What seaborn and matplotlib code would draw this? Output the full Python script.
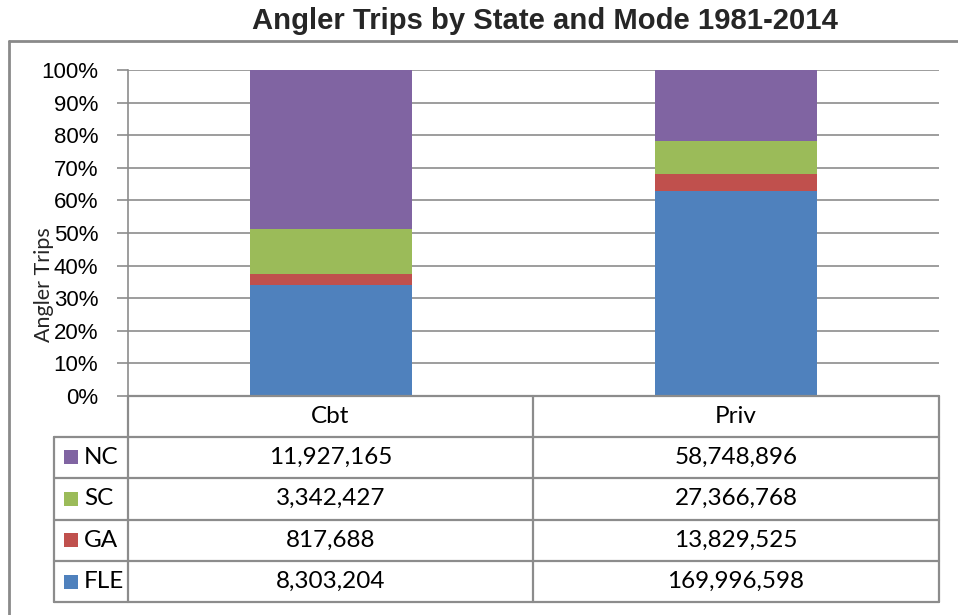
import matplotlib
matplotlib.use("Agg")
import matplotlib.pyplot as plt
import matplotlib.transforms as mtransforms
from matplotlib.lines import Line2D
from matplotlib.patches import Rectangle
import numpy as np
import pandas as pd
import seaborn as sns

# Angler trips by mode (charter boat, private/rental boat) and state
modes = ["Cbt", "Priv"]
states = ["FLE", "GA", "SC", "NC"]          # stacking order, bottom to top
trips = {
    "FLE": [8303204, 169996598],
    "GA": [817688, 13829525],
    "SC": [3342427, 27366768],
    "NC": [11927165, 58748896],
}
colors = {"FLE": "#4F81BD", "GA": "#C0504D", "SC": "#9BBB59", "NC": "#8064A2"}
yticks = np.arange(0, 101, 10)

df = pd.DataFrame(trips, index=modes)
share = df.div(df.sum(axis=1), axis=0) * 100
cum = share.cumsum(axis=1)

sns.set_theme(style="white")
W, H = 958, 615
fig = plt.figure(figsize=(W / 100, H / 100), dpi=100)
fig.patch.set_facecolor("white")

# pixel-space transform (origin top-left)
pix = mtransforms.Affine2D().scale(1 / W, -1 / H).translate(0, 1) + fig.transFigure

L, R, T, B = 128, 939, 70, 396
ax = fig.add_axes([L / W, 1 - B / H, (R - L) / W, (B - T) / H])

grid_c = "#8C8C8C"
for v in yticks:
    ax.axhline(v, color=grid_c, lw=1.2, zorder=0)

# stacked 100% bars: draw cumulative totals from the top layer down
for st in reversed(states):
    d = pd.DataFrame({"mode": modes, "pct": cum[st].values})
    sns.barplot(data=d, x="mode", y="pct", color=colors[st], width=0.4,
                saturation=1, ax=ax, zorder=2, linewidth=0)

ax.set_ylim(0, 100)
ax.set_xlim(-0.5, 1.5)
ax.set_yticks(yticks)
ax.set_yticklabels([f"{v}%" for v in yticks], fontsize=16,
                   family="Liberation Sans", color="black")
ax.set_xticks([])
ax.set_xlabel("")
ax.set_ylabel("")
for s in ["top", "right", "bottom"]:
    ax.spines[s].set_visible(False)
ax.spines["left"].set_color(grid_c)
ax.spines["left"].set_linewidth(1.2)
ax.tick_params(axis="y", direction="out", length=8, width=1.2, color=grid_c,
               pad=13.5, left=True)

# title and axis label
fig.text(545 / W, 1 - 21 / H, "Angler Trips by State and Mode 1981-2014",
         ha="center", va="center", fontsize=21.1, fontweight="bold",
         family="Liberation Sans")
fig.text(44 / W, 1 - 285 / H, "Angler Trips", rotation=90, ha="center",
         va="center", fontsize=15.5, family="Lato")

# outer chart frame
frame_c = "#8A8A8A"
fig.add_artist(Line2D([9, W + 5], [41, 41], transform=pix, color=frame_c, lw=2))
fig.add_artist(Line2D([9, 9], [41, H + 5], transform=pix, color=frame_c, lw=2))

# data table beneath the plot
rows_y = [396, 436.5, 478, 519.5, 561, 602]
col_x = [54, 128, 533, 939]
tc = "#8C8C8C"
tlw = 1.6
fig.add_artist(Line2D([128, 939], [396, 396], transform=pix, color=tc, lw=tlw))
for y in rows_y[1:]:
    fig.add_artist(Line2D([54, 939], [y, y], transform=pix, color=tc, lw=tlw))
fig.add_artist(Line2D([54, 54], [rows_y[1], rows_y[-1]], transform=pix, color=tc, lw=tlw))
for x in col_x[1:]:
    fig.add_artist(Line2D([x, x], [396, rows_y[-1]], transform=pix, color=tc, lw=tlw))

tfont = dict(family="Lato", fontsize=17.5, color="black")
for j, m in enumerate(modes):
    cx = (col_x[j + 1] + col_x[j + 2]) / 2
    fig.text(cx, (rows_y[0] + rows_y[1]) / 2, m, transform=pix, ha="center",
             va="center", **tfont)

for i, st in enumerate(reversed(states)):
    cy = (rows_y[i + 1] + rows_y[i + 2]) / 2
    fig.add_artist(Rectangle((64, cy - 7), 14, 14, transform=pix,
                             facecolor=colors[st], edgecolor="none"))
    fig.text(84, cy, st, transform=pix, ha="left", va="center", **tfont)
    for j, m in enumerate(modes):
        cx = (col_x[j + 1] + col_x[j + 2]) / 2
        fig.text(cx, cy, f"{df.loc[m, st]:,}", transform=pix, ha="center",
                 va="center", **tfont)

fig.savefig("out.png", dpi=100, facecolor="white")
